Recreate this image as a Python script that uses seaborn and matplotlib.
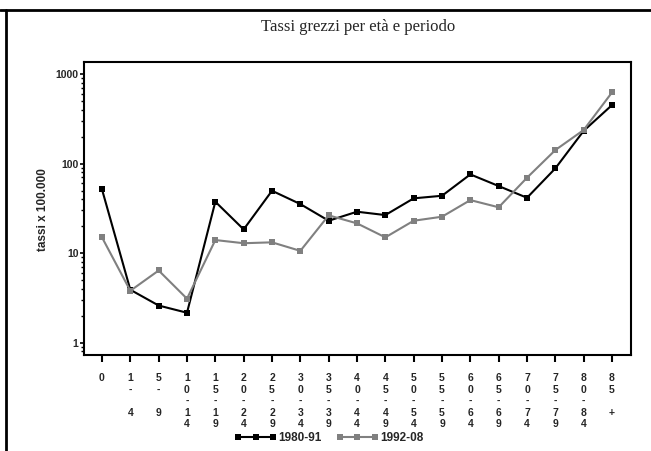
import matplotlib
matplotlib.use("Agg")
import matplotlib.pyplot as plt
from matplotlib.lines import Line2D
from matplotlib.ticker import LogLocator, NullFormatter, FixedLocator, FixedFormatter
import seaborn as sns
import pandas as pd

# Age classes (fixed-width labels, printed one character per line)
age_classes = ["0", "1- 4", "5- 9", "10-14", "15-19", "20-24", "25-29", "30-34",
               "35-39", "40-44", "45-49", "50-54", "55-59", "60-64", "65-69",
               "70-74", "75-79", "80-84", "85 +"]

# Crude rates per 100,000 by period
rates_1980_91 = [51.5, 3.9, 2.6, 2.16, 37.5, 18.4, 49.7, 35.3, 23.0, 29.0, 26.6,
                 40.9, 43.7, 75.7, 56.1, 41.5, 88.4, 232.0, 450.0]
rates_1992_08 = [15.0, 3.8, 6.4, 3.1, 14.0, 12.9, 13.2, 10.6, 26.4, 21.5, 15.0,
                 23.0, 25.5, 39.1, 32.5, 69.5, 141.5, 237.0, 623.0]
periods = ["1980-91", "1992-08"]
colors = {periods[0]: "#000000", periods[1]: "#808080"}

df = pd.concat([
    pd.DataFrame({"pos": range(len(age_classes)), "tasso": rates_1980_91, "periodo": periods[0]}),
    pd.DataFrame({"pos": range(len(age_classes)), "tasso": rates_1992_08, "periodo": periods[1]}),
], ignore_index=True)

sns.set_style("white")
plt.rcParams["font.family"] = ["Liberation Sans", "DejaVu Sans"]

W, H = 651, 451
fig = plt.figure(figsize=(W / 100, H / 100), dpi=100)
ax = fig.add_axes([84 / W, 1 - 355 / H, (631 - 84) / W, (355 - 62) / H])

sns.lineplot(data=df, x="pos", y="tasso", hue="periodo", style="periodo",
             palette=colors, markers={periods[0]: "s", periods[1]: "s"},
             dashes=False, linewidth=1.5, markersize=4, markeredgewidth=0,
             legend=False, ax=ax)

ax.set_yscale("log")
ax.set_ylim(0.729, 1361)
ax.set_xlim(-0.635, len(age_classes) - 1 + 0.67)

ax.yaxis.set_major_locator(FixedLocator([1, 10, 100, 1000]))
ax.yaxis.set_major_formatter(FixedFormatter(["1", "10", "100", "1000"]))
ax.yaxis.set_minor_locator(LogLocator(base=10, subs=range(2, 10)))
ax.yaxis.set_minor_formatter(NullFormatter())

ax.set_xticks(range(len(age_classes)))
ax.set_xticklabels(["\n".join(list(a)) for a in age_classes],
                   fontsize=7.5, fontweight="bold", va="top", linespacing=1.2)
for lab in ax.get_yticklabels():
    lab.set_fontsize(7.5)
    lab.set_fontweight("bold")

ax.tick_params(axis="x", which="major", direction="out", length=5, width=1.5,
               color="black", pad=8, bottom=True)
ax.tick_params(axis="y", which="major", direction="out", length=3, width=1.2,
               color="black", pad=1, left=True)
ax.tick_params(axis="y", which="minor", direction="out", length=2, width=1.0,
               color="black", left=True)

for s in ax.spines.values():
    s.set_visible(True)
    s.set_color("black")
    s.set_linewidth(1.5)

ax.set_xlabel("")
ax.set_ylabel("")

fig.text(43 / W, 1 - 210 / H, "tassi x 100.000", rotation=90, ha="center",
         va="center", fontsize=8.5, fontweight="bold")
fig.text(358 / W, 1 - 27 / H, "Tassi grezzi per età e periodo",
         ha="center", va="center", fontsize=12, family=["Liberation Serif"])

# legend below the chart
handles = [Line2D([], [], color=colors[p], marker="s", markersize=4, lw=1.5,
                  markeredgewidth=0) for p in periods]
fig.legend(handles, periods, loc="center", bbox_to_anchor=(329 / W, 1 - 438 / H),
           ncol=2, frameon=False, numpoints=3, handlelength=3.6, handletextpad=0.15,
           columnspacing=1.2, prop={"size": 8.5, "weight": "bold"})

# page frame lines
fig.add_artist(Line2D([0, 1], [1 - 10 / H, 1 - 10 / H], transform=fig.transFigure,
                      color="black", lw=2))
fig.add_artist(Line2D([5.5 / W, 5.5 / W], [0, 1 - 10 / H], transform=fig.transFigure,
                      color="black", lw=2))

fig.savefig("out.png", dpi=100)
